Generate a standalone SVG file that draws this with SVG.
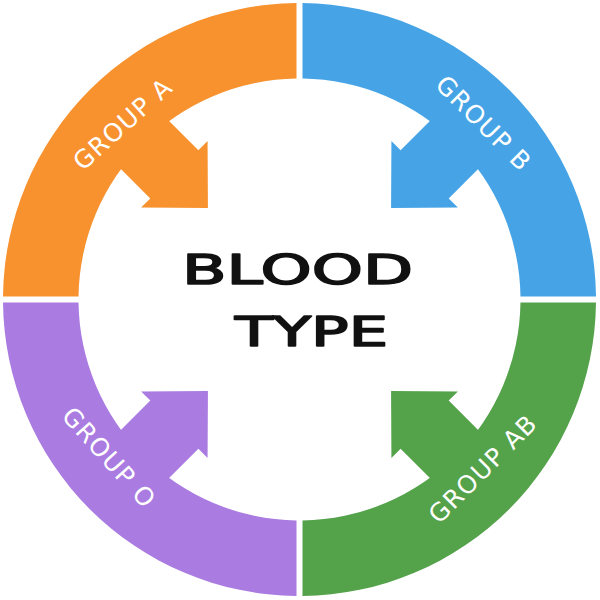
<svg xmlns="http://www.w3.org/2000/svg" width="600" height="600" viewBox="0 0 600 600">
  <style>
    .lbl { font-family: "DejaVu Sans", "Liberation Sans", sans-serif; font-size: 25px; fill: #ffffff; text-anchor: middle; letter-spacing: 1.2px; }
    .title { font-family: "DejaVu Sans", "Liberation Sans", sans-serif; font-weight: normal; fill: #111111; stroke: #111111; stroke-width: 1.6px; stroke-linejoin: round; text-anchor: middle; }
    .orange { fill: #F7922F; }
    .blue { fill: #46A4E6; }
    .green { fill: #54A24A; }
    .purple { fill: #AA7BE0; }
  </style>
  <defs>
    <path id="arrow" d="M129.5,0 L177,-47 L177,-34 L250,-34 L250,34 L177,34 L177,47 Z"/>
  </defs>
  <rect width="600" height="600" fill="#ffffff"/>

  <g id="group-a">
    <path class="orange" d="M3.015,296.5 A296.5,296.5 0 0 1 296.5,3.015 L296.5,78.52 A221,221 0 0 0 78.52,296.5 Z"/>
    <use href="#arrow" class="orange" transform="translate(299.5,299.5) rotate(225)"/>
    <text class="lbl" transform="translate(128.5,130.5) rotate(-42)">GROUP A</text>
  </g>

  <g id="group-b">
    <path class="blue" d="M302.5,3.015 A296.5,296.5 0 0 1 595.985,296.5 L520.48,296.5 A221,221 0 0 0 302.5,78.52 Z"/>
    <use href="#arrow" class="blue" transform="translate(299.5,299.5) rotate(315)"/>
    <text class="lbl" transform="translate(477.5,129.5) rotate(45)">GROUP B</text>
  </g>

  <g id="group-ab">
    <path class="green" d="M595.985,302.5 A296.5,296.5 0 0 1 302.5,595.985 L302.5,520.48 A221,221 0 0 0 520.48,302.5 Z"/>
    <use href="#arrow" class="green" transform="translate(299.5,299.5) rotate(45)"/>
    <text class="lbl" transform="translate(489,475) rotate(-45)">GROUP AB</text>
  </g>

  <g id="group-o">
    <path class="purple" d="M296.5,595.985 A296.5,296.5 0 0 1 3.015,302.5 L78.52,302.5 A221,221 0 0 0 296.5,520.48 Z"/>
    <use href="#arrow" class="purple" transform="translate(299.5,299.5) rotate(135)"/>
    <text class="lbl" transform="translate(102.5,463.5) rotate(48)">GROUP O</text>
  </g>

  <g id="center">
    <text class="title" x="297.5" y="284" font-size="41" textLength="231" lengthAdjust="spacingAndGlyphs">BLOOD</text>
    <text class="title" x="311.5" y="346" font-size="41" textLength="153" lengthAdjust="spacingAndGlyphs">TYPE</text>
  </g>

  <g id="connectors"></g>
</svg>
